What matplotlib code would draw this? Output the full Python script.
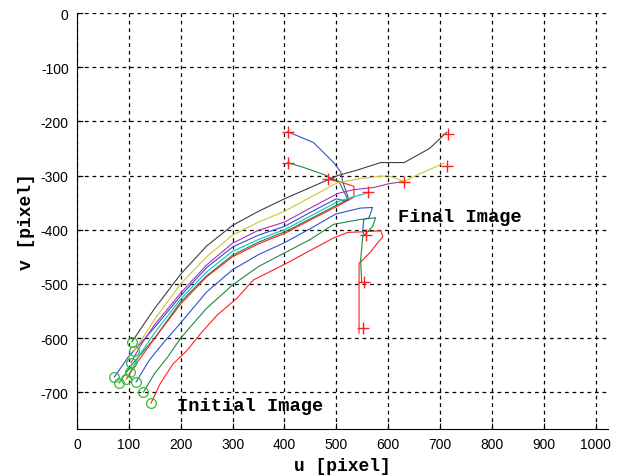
import matplotlib
matplotlib.use("Agg")
import matplotlib.pyplot as plt

plt.rcParams["axes.unicode_minus"] = False

# feature trajectories in the image plane (u, v) - start point first
u_blue1 = [72, 99, 150, 200, 250, 300, 350, 400, 450, 500, 518, 524, 522, 512, 509, 495, 456, 406]
v_blue1 = [-672, -635, -580, -522, -470, -432, -410, -394, -368, -343, -347, -345, -338, -310, -294, -276, -239, -219]

u_green1 = [81, 105, 150, 200, 250, 300, 350, 400, 450, 500, 522, 513, 505, 476, 437, 406]
v_green1 = [-683, -650, -600, -533, -485, -447, -423, -404, -380, -355, -344, -326, -311, -298, -285, -276]

u_red1 = [95, 120, 150, 200, 250, 300, 350, 400, 450, 503, 534, 534, 512, 485]
v_red1 = [-676, -640, -600, -537, -487, -450, -426, -407, -382, -356, -340, -320, -313, -307]

u_cyan = [102, 125, 150, 200, 250, 300, 350, 400, 450, 503, 530, 561]
v_cyan = [-663, -625, -590, -528, -478, -440, -418, -400, -375, -348, -340, -332]

u_magenta = [104, 125, 150, 200, 250, 300, 350, 400, 450, 503, 534, 573, 602, 631]
v_magenta = [-646, -610, -575, -517, -465, -425, -401, -386, -360, -333, -326, -322, -315, -311]

u_yellow = [110, 130, 150, 200, 250, 300, 350, 400, 450, 503, 550, 600, 631, 663, 708]
v_yellow = [-624, -595, -565, -500, -450, -410, -386, -366, -340, -313, -305, -300, -311, -296, -277]

u_gray = [106, 125, 150, 200, 250, 300, 350, 400, 450, 503, 540, 586, 631, 680, 713]
v_gray = [-607, -580, -545, -482, -430, -392, -366, -343, -322, -300, -290, -276, -276, -250, -220]

u_blue2 = [114, 140, 170, 200, 250, 300, 350, 400, 450, 499, 547, 570, 563, 553, 551, 553]
v_blue2 = [-681, -640, -605, -572, -515, -474, -446, -424, -398, -371, -360, -359, -378, -381, -403, -409]

u_green2 = [128, 150, 175, 200, 250, 300, 350, 400, 450, 495, 547, 576, 570, 551, 547, 549]
v_green2 = [-700, -665, -635, -600, -545, -502, -468, -443, -418, -390, -381, -378, -394, -413, -456, -496]

u_red2 = [143, 160, 185, 213, 240, 270, 309, 340, 406, 495, 522, 547, 586, 590, 580, 567, 551, 544, 544]
v_red2 = [-720, -685, -648, -622, -590, -558, -526, -493, -461, -415, -405, -404, -402, -413, -424, -440, -456, -462, -591]

# desired final feature positions
u_target = [406, 406, 485, 561, 631, 714, 716, 557, 553, 551]
v_target = [-219, -276, -307, -330, -311, -283, -224, -409, -496, -581]

trajectories = [
    (u_blue1, v_blue1), (u_green1, v_green1), (u_red1, v_red1),
    (u_cyan, v_cyan), (u_magenta, v_magenta), (u_yellow, v_yellow),
    (u_gray, v_gray), (u_blue2, v_blue2), (u_green2, v_green2), (u_red2, v_red2),
]
# old matlab colour order (a bit washed out like the original screenshot)
colors = ["#3050d0", "#1a8a40", "#ff2020", "#10c0c0", "#b030b0", "#c8c830", "#404040",
          "#3050d0", "#1a8a40", "#ff2020"]

fig = plt.figure(figsize=(6.21, 4.77), dpi=100)
ax = fig.add_axes([0.124, 0.0985, 0.855, 0.872])

for (u, v), c in zip(trajectories, colors):
    ax.plot(u, v, color=c, lw=0.8)

for u, v in trajectories:
    ax.plot(u[0], v[0], "o", mfc="none", mec="#33bb33", ms=7, mew=0.9)
ax.plot(u_target, v_target, "+", color="#ff2020", ms=9, mew=1.0, ls="none")

mono = dict(family="Liberation Mono", weight="bold")
ax.text(619, -376, "Final Image", fontsize=13.5, va="center", **mono)
ax.text(193, -724, "Initial Image", fontsize=13.5, va="center", **mono)

ax.set_xlim(0, 1024)
ax.set_ylim(-768, 0)
ax.set_xticks(range(0, 1001, 100))
ax.set_yticks(range(-700, 1, 100))
ax.grid(True, color="black", ls=(0, (3, 3)), lw=0.9)
ax.spines["top"].set_visible(False)
ax.spines["right"].set_visible(False)
ax.tick_params(direction="in", length=4, labelsize=10, pad=6)
for lab in ax.get_xticklabels() + ax.get_yticklabels():
    lab.set_family("Liberation Sans")

ax.set_xlabel("u [pixel]", fontsize=13, labelpad=4, **mono)
ax.set_ylabel("v [pixel]", fontsize=13, labelpad=4, **mono)

plt.savefig("out.png", dpi=100)
